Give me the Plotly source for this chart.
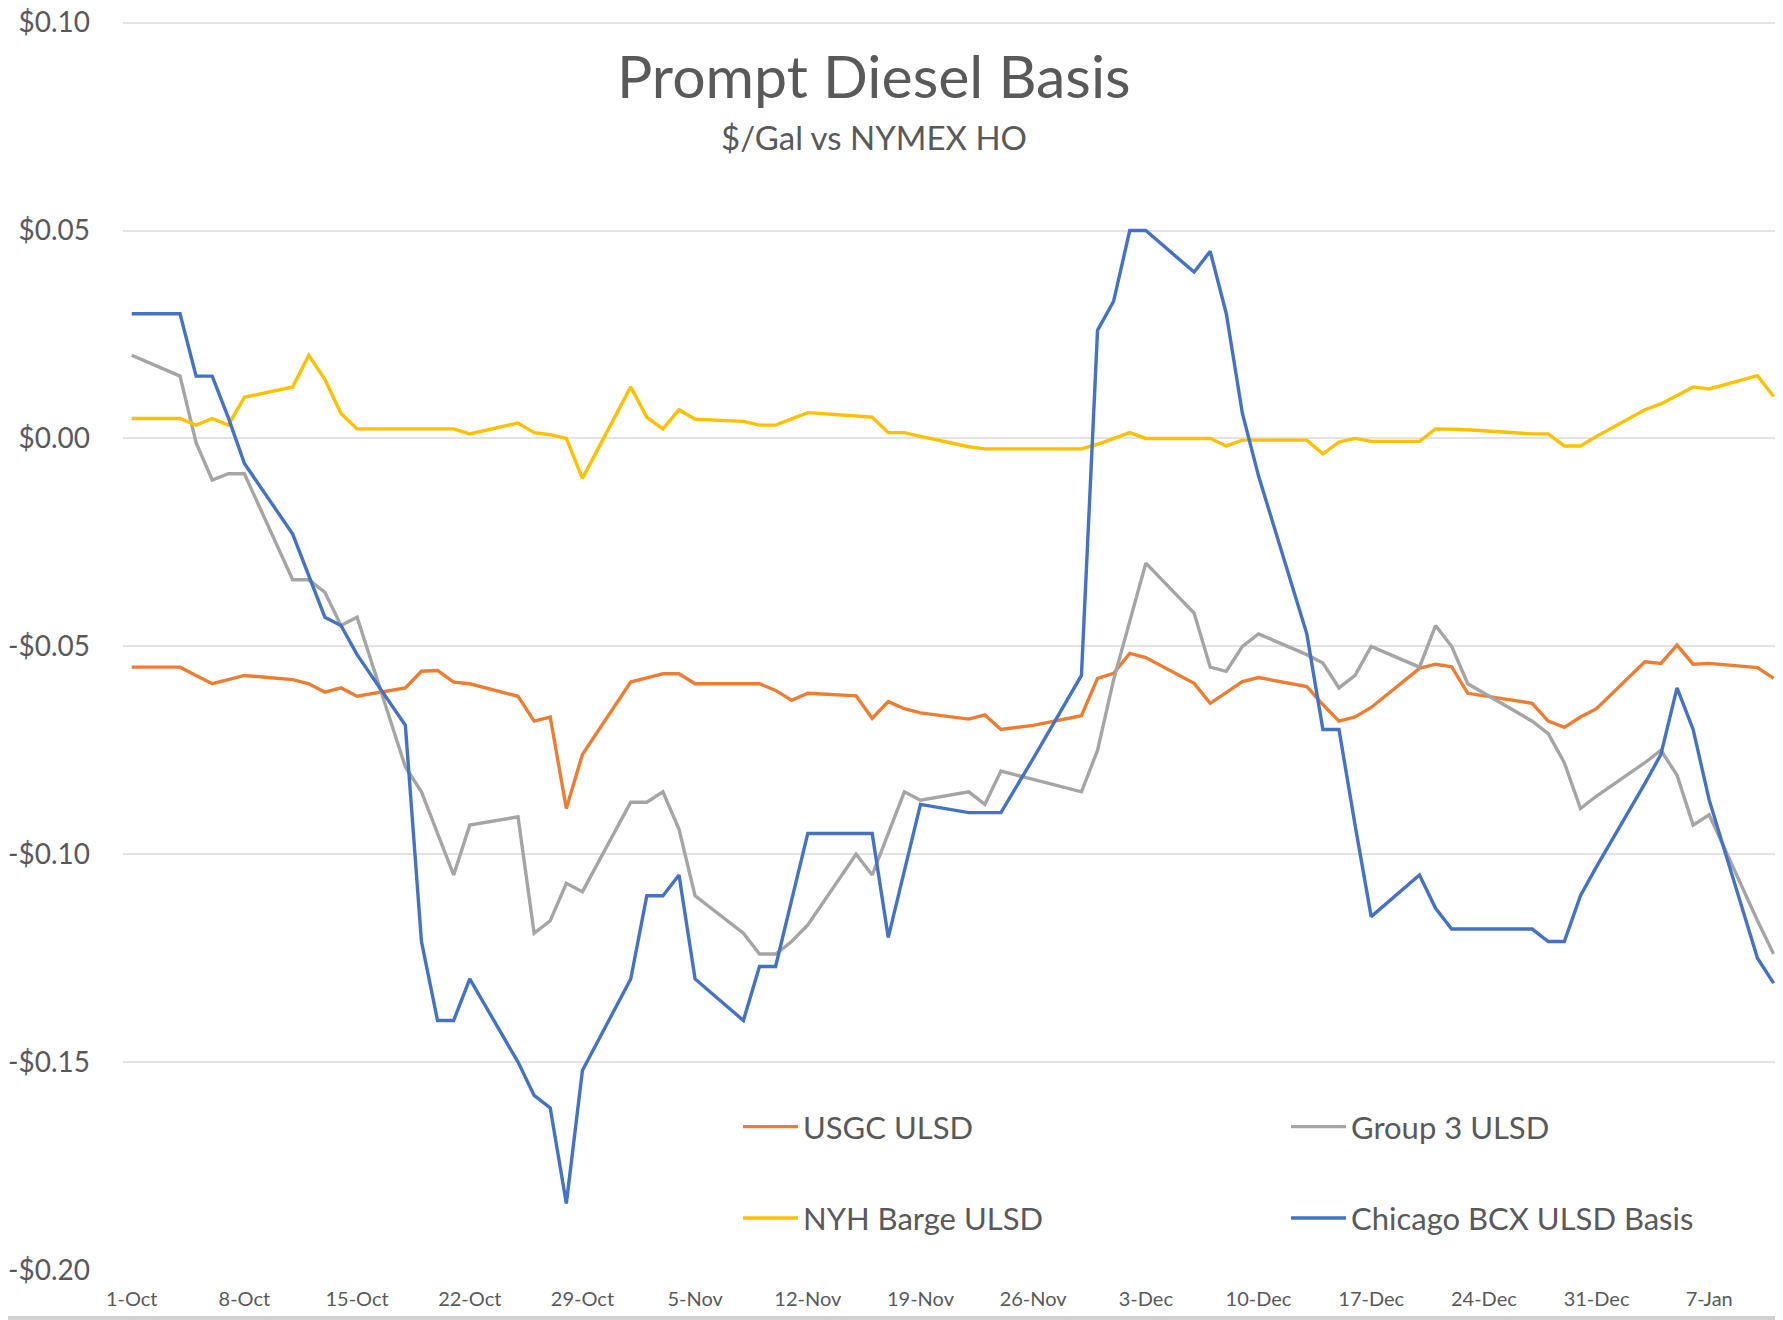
import plotly.graph_objects as go

# ---------------- data ----------------
dates = [
    "2021-10-01",
    "2021-10-04", "2021-10-05", "2021-10-06", "2021-10-07", "2021-10-08",
    "2021-10-11", "2021-10-12", "2021-10-13", "2021-10-14", "2021-10-15",
    "2021-10-18", "2021-10-19", "2021-10-20", "2021-10-21", "2021-10-22",
    "2021-10-25", "2021-10-26", "2021-10-27", "2021-10-28", "2021-10-29",
    "2021-11-01", "2021-11-02", "2021-11-03", "2021-11-04", "2021-11-05",
    "2021-11-08", "2021-11-09", "2021-11-10", "2021-11-11", "2021-11-12",
    "2021-11-15", "2021-11-16", "2021-11-17", "2021-11-18", "2021-11-19",
    "2021-11-22", "2021-11-23", "2021-11-24", "2021-11-26",
    "2021-11-29", "2021-11-30", "2021-12-01", "2021-12-02", "2021-12-03",
    "2021-12-06", "2021-12-07", "2021-12-08", "2021-12-09", "2021-12-10",
    "2021-12-13", "2021-12-14", "2021-12-15", "2021-12-16", "2021-12-17",
    "2021-12-20", "2021-12-21", "2021-12-22", "2021-12-23",
    "2021-12-27", "2021-12-28", "2021-12-29", "2021-12-30", "2021-12-31",
    "2022-01-03", "2022-01-04", "2022-01-05", "2022-01-06", "2022-01-07",
    "2022-01-10", "2022-01-11",
]

usgc_ulsd = [
    -0.055,
    -0.055, -0.057, -0.059, -0.058, -0.057,
    -0.058, -0.059, -0.061, -0.060, -0.062,
    -0.060, -0.056, -0.0558, -0.0586, -0.059,
    -0.062, -0.068, -0.067, -0.089, -0.076,
    -0.0586, -0.0576, -0.0566, -0.0566, -0.059,
    -0.059, -0.059, -0.0606, -0.063, -0.0613,
    -0.0619, -0.0673, -0.0633, -0.065, -0.066,
    -0.0675, -0.0665, -0.070, -0.069,
    -0.0667, -0.0577, -0.0565, -0.0517, -0.0527,
    -0.0589, -0.0637, -0.061, -0.0585, -0.0575,
    -0.0597, -0.064, -0.068, -0.067, -0.0647,
    -0.0553, -0.0543, -0.0549, -0.0613,
    -0.0637, -0.068, -0.0695, -0.067, -0.065,
    -0.0537, -0.0541, -0.0497, -0.0543, -0.0541,
    -0.0551, -0.0577,
]

group3_ulsd = [
    0.020,
    0.015, -0.001, -0.010, -0.0085, -0.0085,
    -0.034, -0.034, -0.037, -0.045, -0.043,
    -0.079, -0.085, -0.095, -0.105, -0.093,
    -0.091, -0.119, -0.116, -0.107, -0.109,
    -0.0875, -0.0875, -0.085, -0.094, -0.110,
    -0.119, -0.124, -0.124, -0.121, -0.117,
    -0.100, -0.105, -0.095, -0.085, -0.087,
    -0.085, -0.088, -0.080, -0.082,
    -0.085, -0.075, -0.058, -0.044, -0.030,
    -0.042, -0.055, -0.056, -0.050, -0.047,
    -0.052, -0.054, -0.060, -0.057, -0.050,
    -0.055, -0.045, -0.050, -0.059,
    -0.068, -0.071, -0.078, -0.089, -0.086,
    -0.078, -0.075, -0.081, -0.093, -0.0905,
    -0.116, -0.124,
]

nyh_barge_ulsd = [
    0.0048,
    0.0048, 0.0032, 0.0048, 0.0032, 0.0099,
    0.0124, 0.020, 0.0142, 0.006, 0.0023,
    0.0023, 0.0023, 0.0023, 0.0023, 0.0011,
    0.0037, 0.0014, 0.0009, 0.0, -0.0096,
    0.0124, 0.0051, 0.0023, 0.0069, 0.0046,
    0.0041, 0.0032, 0.0032, 0.0047, 0.0062,
    0.0054, 0.0051, 0.0014, 0.0014, 0.0005,
    -0.002, -0.0025, -0.0025, -0.0025,
    -0.0025, -0.0014, 0.0, 0.0014, 0.0,
    0.0, 0.0, -0.0018, -0.0004, -0.0004,
    -0.0004, -0.0037, -0.0009, 0.0, -0.0007,
    -0.0007, 0.0023, 0.0022, 0.0021,
    0.0011, 0.0011, -0.0018, -0.0018, 0.0005,
    0.0069, 0.0083, 0.0104, 0.0124, 0.0119,
    0.0151, 0.0101,
]

chicago_bcx_basis = [
    0.030,
    0.030, 0.015, 0.015, 0.005, -0.006,
    -0.023, -0.033, -0.043, -0.045, -0.052,
    -0.069, -0.121, -0.140, -0.140, -0.130,
    -0.150, -0.158, -0.161, -0.184, -0.152,
    -0.130, -0.110, -0.110, -0.105, -0.130,
    -0.140, -0.127, -0.127, -0.111, -0.095,
    -0.095, -0.095, -0.120, -0.104, -0.088,
    -0.090, -0.090, -0.090, -0.077,
    -0.057, 0.026, 0.033, 0.050, 0.050,
    0.040, 0.045, 0.030, 0.006, -0.009,
    -0.047, -0.070, -0.070, -0.093, -0.115,
    -0.105, -0.113, -0.118, -0.118,
    -0.118, -0.121, -0.121, -0.110, -0.103,
    -0.083, -0.076, -0.060, -0.070, -0.087,
    -0.125, -0.131,
]

tick_dates = [
    "2021-10-01", "2021-10-08", "2021-10-15", "2021-10-22", "2021-10-29",
    "2021-11-05", "2021-11-12", "2021-11-19", "2021-11-26", "2021-12-03",
    "2021-12-10", "2021-12-17", "2021-12-24", "2021-12-31", "2022-01-07",
]
tick_labels = [
    "1-Oct", "8-Oct", "15-Oct", "22-Oct", "29-Oct", "5-Nov", "12-Nov", "19-Nov",
    "26-Nov", "3-Dec", "10-Dec", "17-Dec", "24-Dec", "31-Dec", "7-Jan",
]
y_ticks = [0.10, 0.05, 0.00, -0.05, -0.10, -0.15, -0.20]
y_labels = ["$0.10", "$0.05", "$0.00", "-$0.05", "-$0.10", "-$0.15", "-$0.20"]

# ---------------- styling ----------------
FONT = "Lato, 'Open Sans', sans-serif"
TXT = "#595959"
W, H = 1783, 1320
OFF = 8  # page body margin offset
ML, MR, MT, MB = 123 - OFF, OFF, 21 - OFF, 50 + OFF

series = [
    ("USGC ULSD", usgc_ulsd, "#ED7D31", "legend"),
    ("Group 3 ULSD", group3_ulsd, "#A5A5A5", "legend2"),
    ("NYH Barge ULSD", nyh_barge_ulsd, "#FFC000", "legend"),
    ("Chicago BCX ULSD Basis", chicago_bcx_basis, "#4472C4", "legend2"),
]

fig = go.Figure()
for i, (name, vals, col, leg) in enumerate(series):
    fig.add_trace(go.Scatter(
        x=dates, y=vals, name=name, mode="lines",
        line=dict(color=col, width=3.4),
        legend=leg, legendgroup=f"g{i}",
        hoverinfo="x+y+name",
    ))

plot_h = H - MT - MB
plot_w = W - ML - MR


def py(pix):
    # pix = screen pixel
    return (H - MB - (pix - OFF)) / plot_h


def px(pix):
    return ((pix - OFF) - ML) / plot_w


legend_common = dict(
    orientation="v", bgcolor="rgba(0,0,0,0)",
    font=dict(family=FONT, size=31, color=TXT),
    yanchor="top", xanchor="left",
    tracegroupgap=48, itemwidth=55,
)

fig.update_layout(
    width=W, height=H,
    margin=dict(l=ML, r=MR, t=MT, b=MB, pad=0, autoexpand=False),
    paper_bgcolor="white", plot_bgcolor="white",
    font=dict(family=FONT, color=TXT),
    showlegend=True,
    legend=dict(x=px(738), y=py(1100), **legend_common),
    legend2=dict(x=px(1286), y=py(1100), **legend_common),
    xaxis=dict(
        type="date", automargin=False,
        range=["2021-09-30 11:00", "2022-01-11 14:00"],
        tickmode="array", tickvals=tick_dates, ticktext=tick_labels,
        showgrid=False, zeroline=False, showline=False, ticks="",
        tickfont=dict(family=FONT, size=20, color=TXT),
        ticklabelstandoff=15,
    ),
    yaxis=dict(
        range=[-0.20, 0.1004], automargin=False,
        tickmode="array", tickvals=y_ticks, ticktext=y_labels,
        showgrid=True, gridcolor="#E3E3E3", gridwidth=1.5,
        zeroline=False, showline=False, ticks="",
        tickfont=dict(family=FONT, size=28, color=TXT),
        ticklabelstandoff=32, ticklabeloverflow="allow",
    ),
    annotations=[
        dict(text="Prompt Diesel Basis", xref="paper", yref="paper",
             x=px(874), y=py(76), xanchor="center", yanchor="middle",
             showarrow=False, font=dict(family=FONT, size=59, color=TXT)),
        dict(text="$/Gal vs NYMEX HO", xref="paper", yref="paper",
             x=px(874), y=py(137), xanchor="center", yanchor="middle",
             showarrow=False, font=dict(family=FONT, size=33, color=TXT)),
    ],
    shapes=[
        dict(type="rect", xref="paper", yref="paper", layer="above",
             x0=px(0), x1=px(W + OFF), y0=py(1316), y1=py(1320),
             fillcolor="#D0D0D0", line=dict(width=0)),
    ],
)

fig.write_html("out.html")
